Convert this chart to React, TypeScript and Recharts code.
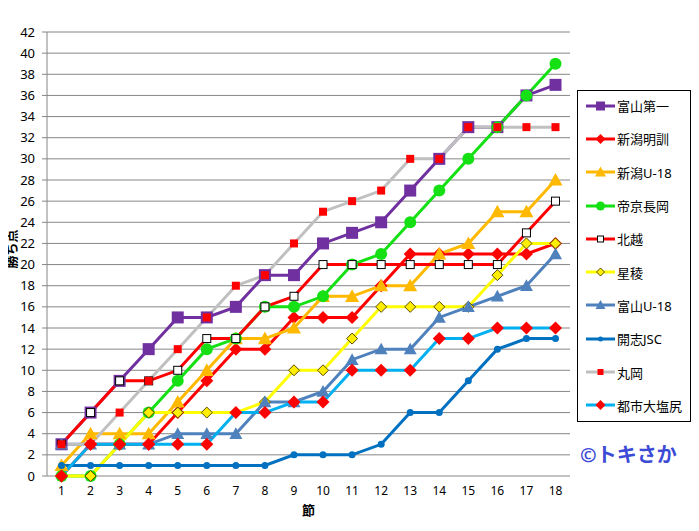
import { LineChart, Line, XAxis, YAxis, CartesianGrid, Legend } from 'recharts'

const rounds = ['1', '2', '3', '4', '5', '6', '7', '8', '9', '10', '11', '12', '13', '14', '15', '16', '17', '18']
const yTicks = [0, 2, 4, 6, 8, 10, 12, 14, 16, 18, 20, 22, 24, 26, 28, 30, 32, 34, 36, 38, 40, 42]

const toyamaDaiichi = [3, 6, 9, 12, 15, 15, 16, 19, 19, 22, 23, 24, 27, 30, 33, 33, 36, 37]
const niigataMeikun = [0, 3, 3, 3, 6, 9, 12, 12, 15, 15, 15, 18, 21, 21, 21, 21, 21, 22]
const niigataU18 = [1, 4, 4, 4, 7, 10, 13, 13, 14, 17, 17, 18, 18, 21, 22, 25, 25, 28]
const teikyoNagaoka = [0, 0, 3, 6, 9, 12, 13, 16, 16, 17, 20, 21, 24, 27, 30, 33, 36, 39]
const hokuetsu = [3, 6, 9, 9, 10, 13, 13, 16, 17, 20, 20, 20, 20, 20, 20, 20, 23, 26]
const seiryo = [0, 0, 3, 6, 6, 6, 6, 7, 10, 10, 13, 16, 16, 16, 16, 19, 22, 22]
const toyamaU18 = [3, 3, 3, 3, 4, 4, 4, 7, 7, 8, 11, 12, 12, 15, 16, 17, 18, 21]
const kaishiJSC = [1, 1, 1, 1, 1, 1, 1, 1, 2, 2, 2, 3, 6, 6, 9, 12, 13, 13]
const maruoka = [3, 3, 6, 9, 12, 15, 18, 19, 22, 25, 26, 27, 30, 30, 33, 33, 33, 33]
const toshidaiShiojiri = [0, 3, 3, 3, 3, 3, 6, 6, 7, 7, 10, 10, 10, 13, 13, 14, 14, 14]

type Shape = 'square' | 'diamond' | 'triangle' | 'circle'

const series: {
  name: string
  values: number[]
  color: string
  shape: Shape
  size: number
  fill: string
  stroke?: string
}[] = [
  { name: '富山第一', values: toyamaDaiichi, color: '#7030A0', shape: 'square', size: 12, fill: '#7030A0' },
  { name: '新潟明訓', values: niigataMeikun, color: '#FF0000', shape: 'diamond', size: 13, fill: '#FF0000' },
  { name: '新潟U-18', values: niigataU18, color: '#FFB900', shape: 'triangle', size: 14, fill: '#FFB900' },
  { name: '帝京長岡', values: teikyoNagaoka, color: '#14E014', shape: 'circle', size: 12, fill: '#14E014' },
  { name: '北越', values: hokuetsu, color: '#FF0000', shape: 'square', size: 8, fill: '#FFFFFF', stroke: '#000000' },
  { name: '星稜', values: seiryo, color: '#FFFF00', shape: 'diamond', size: 11, fill: '#FFEE00', stroke: '#5a4a00' },
  { name: '富山U-18', values: toyamaU18, color: '#4F81BD', shape: 'triangle', size: 13, fill: '#4F81BD' },
  { name: '開志JSC', values: kaishiJSC, color: '#0070C0', shape: 'circle', size: 7, fill: '#0070C0' },
  { name: '丸岡', values: maruoka, color: '#C0C0C0', shape: 'square', size: 8, fill: '#FF0000' },
  { name: '都市大塩尻', values: toshidaiShiojiri, color: '#00B0F0', shape: 'diamond', size: 13, fill: '#FF0000' },
]

const data = rounds.map((r, i) => {
  const row: Record<string, string | number> = { round: r }
  series.forEach((s) => {
    row[s.name] = s.values[i]
  })
  return row
})

const font = "'Noto Sans', 'Noto Sans CJK JP', sans-serif"
const gridColor = '#868686'

function Marker({ cx, cy, shape, size, fill, stroke }: {
  cx: number
  cy: number
  shape: Shape
  size: number
  fill: string
  stroke?: string
}) {
  const h = size / 2
  const sw = stroke ? 1 : 0
  if (shape === 'square') {
    return <rect x={cx - h} y={cy - h} width={size} height={size} fill={fill} stroke={stroke} strokeWidth={sw} />
  }
  if (shape === 'diamond') {
    return (
      <polygon
        points={`${cx},${cy - h} ${cx + h},${cy} ${cx},${cy + h} ${cx - h},${cy}`}
        fill={fill}
        stroke={stroke}
        strokeWidth={sw}
      />
    )
  }
  if (shape === 'triangle') {
    return (
      <polygon
        points={`${cx},${cy - h} ${cx + h},${cy + h * 0.8} ${cx - h},${cy + h * 0.8}`}
        fill={fill}
      />
    )
  }
  return <circle cx={cx} cy={cy} r={h} fill={fill} />
}

function LegendBox() {
  return (
    <div style={{ display: 'flex', flexDirection: 'column', marginTop: -2 }}>
      {series.map((s) => (
        <div key={s.name} style={{ height: 33.3, display: 'flex', alignItems: 'center' }}>
          <svg width={30} height={14} style={{ marginLeft: 8 }}>
            <line x1={0} y1={7} x2={29} y2={7} stroke={s.color} strokeWidth={3} />
            <Marker cx={14.5} cy={7} shape={s.shape} size={Math.round(s.size * 0.75)} fill={s.fill} stroke={s.stroke} />
          </svg>
          <span style={{ fontSize: 13, fontFamily: font, color: '#000', marginLeft: 1, whiteSpace: 'nowrap' }}>
            {s.name}
          </span>
        </div>
      ))}
    </div>
  )
}

export default function App() {
  return (
    <div style={{ position: 'relative', width: 699, height: 531, margin: -8, background: '#fff', fontFamily: font }}>
      <LineChart width={699} height={531} data={data} margin={{ top: 32, right: 129, left: 0, bottom: 25 }}>
        <CartesianGrid vertical={false} stroke={gridColor} strokeWidth={1} />
        <XAxis
          dataKey="round"
          axisLine={false}
          tickLine={false}
          tickMargin={4}
          height={30}
          interval={0}
          padding={{ left: 14.5, right: 14.5 }}
          tick={{ fontSize: 12, fill: '#000', fontFamily: font }}
          label={{ value: '節', position: 'bottom', offset: 0, fontSize: 13, fontWeight: 'bold', fill: '#000', fontFamily: font }}
        />
        <YAxis
          domain={[0, 42]}
          ticks={yTicks}
          interval={0}
          width={47}
          axisLine={{ stroke: gridColor }}
          tickLine={{ stroke: gridColor }}
          tickSize={5}
          tickMargin={7}
          tick={{ fontSize: 13, fill: '#000', fontFamily: font }}
          label={{
            content: () => (
              <text
                x={11}
                y={249}
                transform="rotate(-90 11 249)"
                textAnchor="middle"
                dominantBaseline="central"
                fontSize={13}
                fontWeight="bold"
                fill="#000"
                fontFamily={font}
              >
                勝ち点
              </text>
            ),
          }}
        />
        <Legend
          layout="vertical"
          align="center"
          verticalAlign="middle"
          content={() => <LegendBox />}
          wrapperStyle={{
            left: 577,
            top: 90,
            width: 114,
            height: 332,
            border: '1px solid #000',
            background: '#fff',
            boxSizing: 'border-box',
          }}
        />
        {series.map((s) => (
          <Line
            key={s.name}
            type="linear"
            dataKey={s.name}
            stroke={s.color}
            strokeWidth={3}
            isAnimationActive={false}
            activeDot={false}
            dot={(p: any) => (
              <Marker
                key={`${s.name}-${p.index}`}
                cx={p.cx}
                cy={p.cy}
                shape={s.shape}
                size={s.size}
                fill={s.fill}
                stroke={s.stroke}
              />
            )}
          />
        ))}
      </LineChart>
      <div
        style={{
          position: 'absolute',
          left: 580,
          top: 439,
          fontSize: 20,
          fontWeight: 'bold',
          color: '#3C4BD6',
          fontFamily: font,
          whiteSpace: 'nowrap',
        }}
      >
        ©トキさか
      </div>
      <div
        style={{
          position: 'absolute',
          left: 0,
          top: 0,
          width: 698,
          height: 530,
          border: '1px solid #8c8c8c',
          boxSizing: 'border-box',
          pointerEvents: 'none',
        }}
      />
    </div>
  )
}
